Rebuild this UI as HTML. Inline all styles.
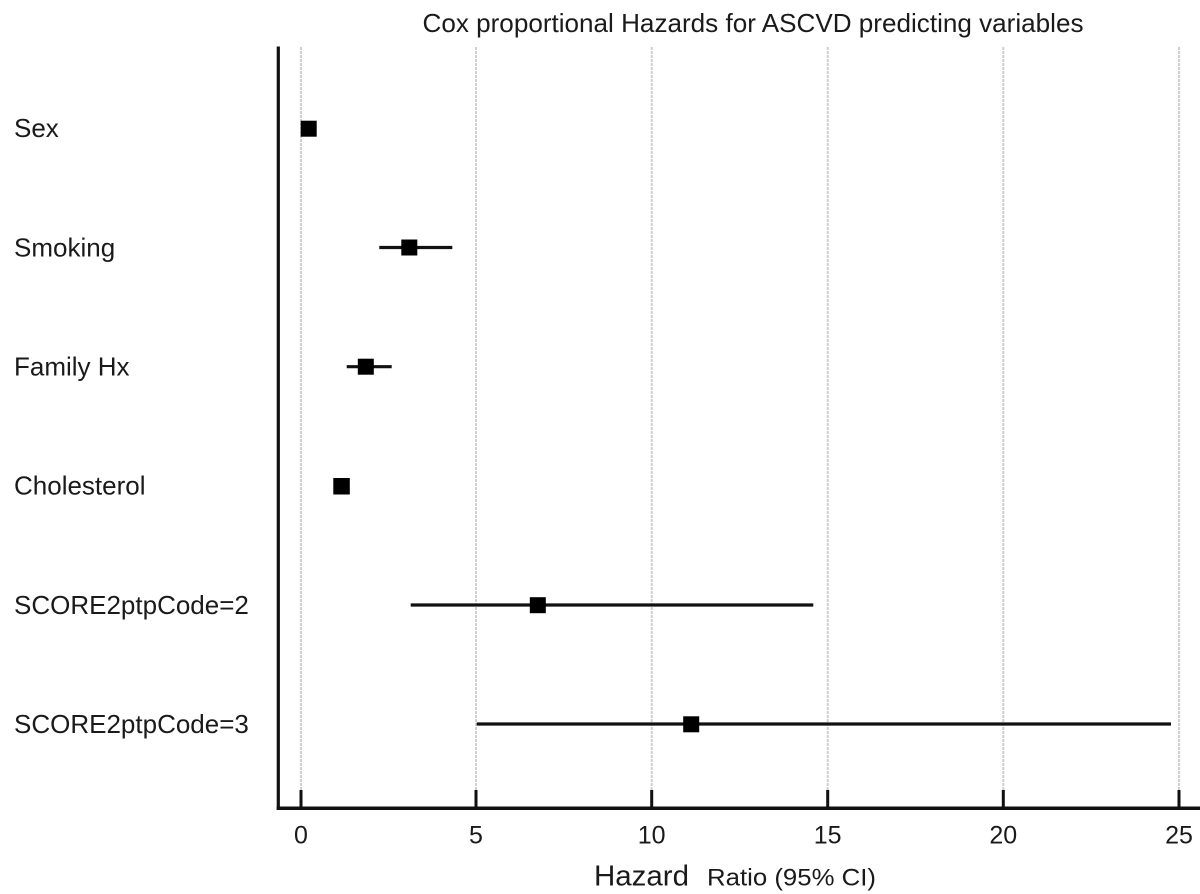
<!DOCTYPE html>
<html>
<head>
<meta charset="utf-8">
<style>
  html, body { margin: 0; padding: 0; background: #ffffff; }
  svg { display: block; }
  text { font-family: "Liberation Sans", Arial, sans-serif; fill: #1a1a1a; }
</style>
</head>
<body>
<svg width="1200" height="894" viewBox="0 0 1200 894" xmlns="http://www.w3.org/2000/svg">
  <rect x="0" y="0" width="1200" height="894" fill="#ffffff"/>

  <!-- Title -->
  <text x="422.5" y="32" font-size="26" textLength="661" lengthAdjust="spacingAndGlyphs">Cox proportional Hazards for ASCVD predicting variables</text>

  <!-- Gridlines -->
  <g stroke="#cfcfcf" stroke-width="2" stroke-dasharray="3,1">
    <line x1="301" y1="47" x2="301" y2="808"/>
    <line x1="476" y1="47" x2="476" y2="808"/>
    <line x1="651.7" y1="47" x2="651.7" y2="808"/>
    <line x1="827.7" y1="47" x2="827.7" y2="808"/>
    <line x1="1003.3" y1="47" x2="1003.3" y2="808"/>
    <line x1="1179" y1="47" x2="1179" y2="808"/>
  </g>

  <!-- Axes -->
  <line x1="278.3" y1="46.5" x2="278.3" y2="810" stroke="#111" stroke-width="3.2"/>
  <line x1="276.7" y1="808.3" x2="1200" y2="808.3" stroke="#111" stroke-width="3.5"/>

  <!-- Ticks -->
  <g stroke="#111" stroke-width="3">
    <line x1="301" y1="790" x2="301" y2="808"/>
    <line x1="476" y1="790" x2="476" y2="808"/>
    <line x1="651.7" y1="790" x2="651.7" y2="808"/>
    <line x1="827.7" y1="790" x2="827.7" y2="808"/>
    <line x1="1003.3" y1="790" x2="1003.3" y2="808"/>
    <line x1="1179" y1="790" x2="1179" y2="808"/>
  </g>

  <!-- Tick labels -->
  <g font-size="25" text-anchor="middle">
    <text x="301" y="843.5">0</text>
    <text x="476" y="843.5">5</text>
    <text x="651.7" y="843.5">10</text>
    <text x="827.7" y="843.5">15</text>
    <text x="1003.3" y="843.5">20</text>
    <text x="1179" y="843.5">25</text>
  </g>

  <!-- X axis title -->
  <text x="594" y="885.5" font-size="29" textLength="95" lengthAdjust="spacingAndGlyphs">Hazard</text>
  <text x="707" y="885.5" font-size="24" textLength="169" lengthAdjust="spacingAndGlyphs">Ratio (95% CI)</text>

  <!-- Row labels -->
  <g font-size="26">
    <text x="14" y="137">Sex</text>
    <text x="14" y="256.5">Smoking</text>
    <text x="14" y="375.7">Family Hx</text>
    <text x="14" y="494.7">Cholesterol</text>
    <text x="14" y="614">SCORE2ptpCode=2</text>
    <text x="14" y="733">SCORE2ptpCode=3</text>
  </g>

  <!-- CI lines -->
  <g stroke="#111" stroke-width="3.2" stroke-linecap="butt">
    <line x1="379.3" y1="247.5" x2="452.3" y2="247.5"/>
    <line x1="346.7" y1="366.7" x2="391.7" y2="366.7"/>
    <line x1="410.7" y1="605" x2="813.3" y2="605"/>
    <line x1="476.7" y1="724" x2="1171" y2="724"/>
  </g>

  <!-- Point estimates -->
  <g fill="#000">
    <rect x="300.7" y="120.7" width="16" height="16"/>
    <rect x="401.3" y="239.5" width="16" height="16"/>
    <rect x="357.8" y="358.7" width="16" height="16"/>
    <rect x="333.3" y="478" width="16.5" height="16.5"/>
    <rect x="529.8" y="597.2" width="16" height="16"/>
    <rect x="683.2" y="716.3" width="16" height="16"/>
  </g>
</svg>
</body>
</html>
